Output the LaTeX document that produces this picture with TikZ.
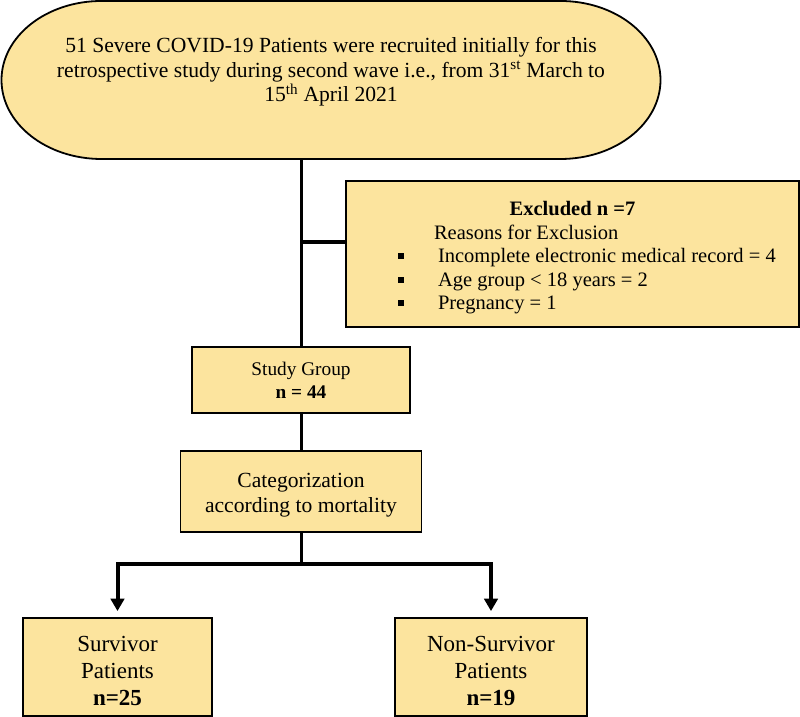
\documentclass[tikz,border=0pt]{standalone}
\usepackage{fontspec}
\setmainfont{Liberation Serif}
\usetikzlibrary{arrows.meta}
\definecolor{boxfill}{RGB}{252,228,158}
\begin{document}
\begin{tikzpicture}[x=1pt,y=1pt,
  box/.style={draw=black, line width=1.8pt, fill=boxfill, inner sep=0pt, align=center},
  conn/.style={line width=3pt, draw=black},
  bar/.style={line width=4pt, draw=black, line join=miter},
  arr/.style={bar, -{Triangle[width=13.5pt,length=12.5pt]}, shorten >=6pt}]
\useasboundingbox (0,0) rectangle (800,717);
% top stadium shape
\draw[line width=1.8pt, fill=boxfill] (101.5,716) -- (560.5,716)
  arc[start angle=90,end angle=-90,x radius=100pt,y radius=79pt]
  -- (101.5,558)
  arc[start angle=-90,end angle=-270,x radius=100pt,y radius=79pt] -- cycle;
\node[align=center, font=\fontsize{21.6}{24.7}\selectfont] (top) at (331,645)
  {51 Severe COVID-19 Patients were recruited initially for this\\
   retrospective study during second wave i.e., from 31\textsuperscript{st} March to\\
   15\textsuperscript{th} April 2021};
\coordinate (topb) at (301,558);
% exclusion box
\node[box, align=left, minimum width=453pt, minimum height=146pt,
  font=\fontsize{20.5}{23.5}\selectfont] (excl) at (572.5,463)
  {\makebox[453pt][c]{\rule{0pt}{22pt}\bfseries Excluded n =7}\\
   \makebox[453pt][l]{\hspace*{88pt}Reasons for Exclusion}\\
   \makebox[453pt][l]{\hspace*{52pt}\makebox[40pt][l]{\rule[3.5pt]{6pt}{6pt}}Incomplete electronic medical record = 4}\\
   \makebox[453pt][l]{\hspace*{52pt}\makebox[40pt][l]{\rule[3.5pt]{6pt}{6pt}}Age group < 18 years = 2}\\
   \makebox[453pt][l]{\hspace*{52pt}\makebox[40pt][l]{\rule[3.5pt]{6pt}{6pt}}Pregnancy = 1}};
% study group
\node[box, minimum width=218pt, minimum height=66pt,
  font=\fontsize{19.3}{22.7}\selectfont] (study) at (301,337)
  {Study Group\\ \textbf{n = 44}};
% categorization
\node[box, minimum width=241pt, minimum height=81pt,
  font=\fontsize{21.6}{25}\selectfont] (cat) at (301,225.5)
  {\rule{0pt}{22.5pt}Categorization\\ according to mortality};
% outcome boxes
\node[box, minimum width=189pt, minimum height=98pt,
  font=\fontsize{23}{27}\selectfont] (surv) at (117.5,50)
  {\rule{0pt}{22.5pt}Survivor\\ Patients\\ \textbf{n=25}};
\node[box, minimum width=192pt, minimum height=98pt,
  font=\fontsize{23}{27}\selectfont] (nons) at (491,50)
  {\rule{0pt}{22.5pt}Non-Survivor\\ Patients\\ \textbf{n=19}};
% connectors
\coordinate (j1) at (301,475);
\draw[conn] (topb) -- (topb |- study.north);
\draw[bar] (j1) -- (j1 -| excl.west);
\draw[conn] (study.south) -- (cat.north);
\coordinate (bj) at (301,153);
\draw[conn] (cat.south) -- (bj);
\draw[arr] (bj) -| (surv.north);
\draw[arr] (bj) -| (nons.north);
\end{tikzpicture}
\end{document}
